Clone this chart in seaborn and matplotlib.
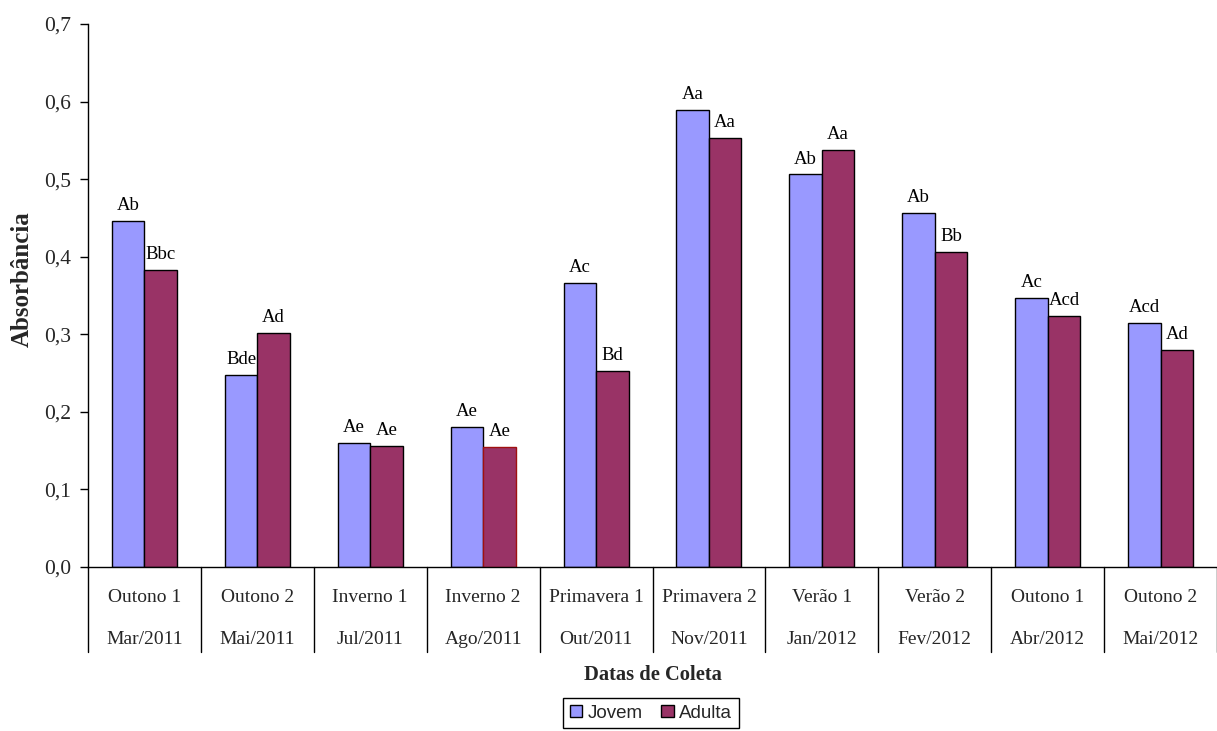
import matplotlib
matplotlib.use("Agg")
import matplotlib.pyplot as plt
from matplotlib.patches import Patch
import matplotlib.transforms as mtransforms
import seaborn as sns
import pandas as pd

# Collection periods (season and month) and absorbance per leaf age
estacoes = ["Outono 1", "Outono 2", "Inverno 1", "Inverno 2", "Primavera 1",
            "Primavera 2", "Verão 1", "Verão 2", "Outono 1", "Outono 2"]
datas = ["Mar/2011", "Mai/2011", "Jul/2011", "Ago/2011", "Out/2011",
         "Nov/2011", "Jan/2012", "Fev/2012", "Abr/2012", "Mai/2012"]
jovem = [0.446, 0.247, 0.160, 0.181, 0.366, 0.589, 0.506, 0.456, 0.347, 0.314]
adulta = [0.383, 0.302, 0.156, 0.155, 0.253, 0.553, 0.537, 0.406, 0.323, 0.280]
letras_jovem = ["Ab", "Bde", "Ae", "Ae", "Ac", "Aa", "Ab", "Ab", "Ac", "Acd"]
letras_adulta = ["Bbc", "Ad", "Ae", "Ae", "Bd", "Aa", "Aa", "Bb", "Acd", "Ad"]
grupos = ["Jovem", "Adulta"]
yticks = [0.0, 0.1, 0.2, 0.3, 0.4, 0.5, 0.6, 0.7]

cores = {"Jovem": "#9999FF", "Adulta": "#993366"}

chaves = [f"{e}\n{d}" for e, d in zip(estacoes, datas)]
df = pd.DataFrame({
    "coleta": chaves * 2,
    "idade": ["Jovem"] * len(chaves) + ["Adulta"] * len(chaves),
    "absorbancia": jovem + adulta,
})

sns.set_theme(style="white")
plt.rcParams["font.family"] = ["Liberation Serif", "DejaVu Serif"]

fig = plt.figure(figsize=(12.17, 7.31), dpi=100)
ax = fig.add_axes([88 / 1217, 164 / 731, 1 - 88 / 1217, 543 / 731])

sns.barplot(data=df, x="coleta", y="absorbancia", hue="idade", order=chaves,
            hue_order=grupos, palette=cores, saturation=1, width=0.576,
            edgecolor="black", linewidth=1.0, legend=False, ax=ax, errorbar=None)

# Value letters above each bar
for cont, letras in zip(ax.containers, [letras_jovem, letras_adulta]):
    ax.bar_label(cont, labels=letras, padding=5, fontsize=13.5, color="black")

# The Adulta bar of Inverno 2 carries a dark red outline
ax.containers[1][3].set_edgecolor("#A01010")

ax.set_ylim(0, 0.7)
ax.set_xlim(-0.5, len(chaves) - 0.5)
ax.set_yticks(yticks)
ax.set_yticklabels([f"{v:.1f}".replace(".", ",") for v in yticks], fontsize=15.5)
ax.tick_params(axis="y", direction="out", length=6, width=1, color="black",
               left=True, pad=6)
ax.set_xticks([])
ax.set_xlabel("")
ax.set_ylabel("")

for side in ["top", "right"]:
    ax.spines[side].set_visible(False)
for side in ["left", "bottom"]:
    ax.spines[side].set_color("black")
    ax.spines[side].set_linewidth(1.0)

# Category separators below the axis and two-line category labels
trans = mtransforms.blended_transform_factory(ax.transData, ax.transAxes)
for k in range(len(chaves) + 1):
    ax.plot([k - 0.5, k - 0.5], [0, -85 / 543], transform=trans,
            color="black", lw=1.0, clip_on=False)
for i, (e, d) in enumerate(zip(estacoes, datas)):
    ax.text(i, -31 / 543, e, transform=trans, ha="center", va="center",
            fontsize=14)
    ax.text(i, -73 / 543, d, transform=trans, ha="center", va="center",
            fontsize=14)

ax.text(0.5, -108 / 543, "Datas de Coleta", transform=ax.transAxes,
        ha="center", va="center", fontsize=14.8, fontweight="bold")
fig.text(22 / 1217, (731 - 279) / 731, "Absorbância", rotation=90,
         ha="center", va="center", fontsize=18, fontweight="bold")

handles = [Patch(facecolor=cores[g], edgecolor="black", linewidth=1.0, label=g)
           for g in grupos]
leg = fig.legend(handles=handles, loc="upper center", ncol=2,
                 bbox_to_anchor=(651 / 1217, (731 - 698) / 731),
                 frameon=True, fancybox=False, framealpha=1, edgecolor="black",
                 handlelength=0.65, handleheight=0.65, handletextpad=0.3,
                 columnspacing=1.0, borderpad=0.35, borderaxespad=0,
                 prop={"family": "Liberation Sans", "size": 13.5})
leg.get_frame().set_linewidth(1.0)

fig.savefig("out.png", dpi=100)
